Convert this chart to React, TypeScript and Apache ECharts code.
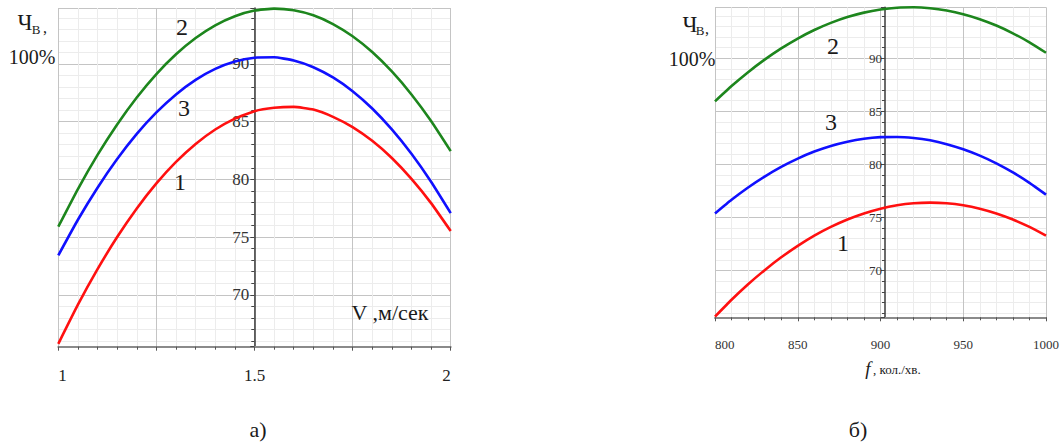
import React, { useEffect, useRef } from "react";
import * as echarts from "echarts";

// ---- Chart а): efficiency vs air speed V (м/сек)
const speedV = [1.0, 1.05, 1.1, 1.15, 1.2, 1.25, 1.3, 1.35, 1.4, 1.45, 1.5, 1.55, 1.6, 1.65, 1.7, 1.75, 1.8, 1.85, 1.9, 1.95, 2.0];
const speedCurve1 = [65.75, 69.14, 72.22, 75.0, 77.48, 79.65, 81.51, 83.07, 84.32, 85.27, 85.91, 86.2, 86.28, 86.05, 85.42, 84.53, 83.34, 81.85, 80.04, 77.94, 75.52];
const speedCurve2 = [75.9, 79.16, 82.12, 84.76, 87.1, 89.13, 90.84, 92.25, 93.35, 94.14, 94.63, 94.8, 94.66, 94.22, 93.46, 92.4, 91.03, 89.35, 87.36, 85.06, 82.45];
const speedCurve3 = [73.41, 76.5, 79.28, 81.76, 83.94, 85.8, 87.36, 88.62, 89.57, 90.21, 90.54, 90.58, 90.3, 89.72, 88.83, 87.64, 86.14, 84.33, 82.22, 79.8, 77.08];

// ---- Chart б): efficiency vs frequency f (кол./хв.)
const freqF = [800, 810, 820, 830, 840, 850, 860, 870, 880, 890, 900, 910, 920, 930, 940, 950, 960, 970, 980, 990, 1000];
const freqCurve1 = [65.66, 67.25, 68.71, 70.04, 71.25, 72.33, 73.29, 74.11, 74.81, 75.38, 75.83, 76.15, 76.34, 76.4, 76.34, 76.15, 75.83, 75.38, 74.81, 74.11, 73.29];
const freqCurve2 = [85.94, 87.38, 88.69, 89.87, 90.93, 91.86, 92.66, 93.33, 93.88, 94.3, 94.59, 94.76, 94.8, 94.71, 94.49, 94.15, 93.68, 93.08, 92.35, 91.5, 90.52];
const freqCurve3 = [75.38, 76.67, 77.83, 78.86, 79.77, 80.55, 81.21, 81.74, 82.14, 82.42, 82.57, 82.59, 82.49, 82.27, 81.91, 81.43, 80.83, 80.1, 79.24, 78.26, 77.15];

const leftXTickLabels = ["1", "1.5", "2"];

const SERIF = "Times New Roman, Liberation Serif, serif";
const RED = "#ff1010";
const GREEN = "#1d861d";
const BLUE = "#1010ff";

function pairs(xs: number[], ys: number[]) {
  return xs.map((x, i) => [x, ys[i]]);
}

function lineSeries(name: string, xs: number[], ys: number[], color: string, idx: number) {
  return {
    name,
    type: "line",
    xAxisIndex: idx,
    yAxisIndex: idx,
    data: pairs(xs, ys),
    showSymbol: false,
    smooth: 0.15,
    lineStyle: { color, width: 2.6 },
    itemStyle: { color },
    z: 5,
  };
}

function xAxisBase(gridIndex: number) {
  return {
    type: "value",
    gridIndex,
    axisLine: { show: true, onZero: false, lineStyle: { color: "#8a8a8a", width: 2 } },
    axisTick: { show: true, length: 4, lineStyle: { color: "#555", width: 1 } },
    minorTick: { show: true, splitNumber: 5, length: 3, lineStyle: { color: "#555" } },
    splitLine: { show: true, lineStyle: { color: "#c4c4c4", width: 1 } },
    minorSplitLine: { show: true, lineStyle: { color: "#ececec", width: 1 } },
  };
}

function yAxisBase(gridIndex: number, min: number, max: number, offset: number, fontSize: number, margin: number) {
  return {
    type: "value",
    gridIndex,
    min,
    max,
    splitNumber: 6,
    offset,
    position: "left",
    axisLine: { show: true, lineStyle: { color: "#3a3a3a", width: 1.5 } },
    axisTick: { show: true, length: 4, lineStyle: { color: "#444" } },
    minorTick: { show: true, splitNumber: 5, length: 3, lineStyle: { color: "#444" } },
    splitLine: { show: true, lineStyle: { color: "#c4c4c4", width: 1 } },
    minorSplitLine: { show: true, lineStyle: { color: "#ececec", width: 1 } },
    axisLabel: {
      fontFamily: SERIF,
      fontSize,
      color: "#333",
      margin,
      showMinLabel: false,
      showMaxLabel: false,
    },
  };
}

function txt(text: string, x: number, y: number, size: number, extra: any = {}) {
  return {
    type: "text",
    x,
    y,
    z: 10,
    style: {
      text,
      fontFamily: SERIF,
      fontSize: size,
      fontStyle: extra.italic ? "italic" : "normal",
      fill: "#1a1a1a",
      align: extra.align || "center",
      verticalAlign: "middle",
    },
  };
}

export default function App() {
  const ref = useRef<HTMLDivElement>(null);

  useEffect(() => {
    if (!ref.current) return;
    const chart = echarts.init(ref.current, null, { renderer: "svg" });
    const option: any = {
      animation: false,
      backgroundColor: "#ffffff",
      grid: [
        { left: 58.3, top: 8, width: 392.4, height: 338.7 },
        { left: 715, top: 7.3, width: 340, height: 310 },
      ],
      xAxis: [
        {
          ...xAxisBase(0),
          min: 1,
          max: 2,
          interval: 0.25,
          axisLabel: {
            fontFamily: SERIF,
            fontSize: 17,
            color: "#222",
            margin: 20,
            alignMinLabel: "left",
            alignMaxLabel: "right",
            formatter: (v: number) => {
              const s = String(Math.round(v * 100) / 100);
              return leftXTickLabels.includes(s) ? s : "";
            },
          },
        },
        {
          ...xAxisBase(1),
          min: 800,
          max: 1000,
          interval: 50,
          axisLabel: {
            fontFamily: SERIF,
            fontSize: 13,
            color: "#333",
            margin: 21,
            alignMinLabel: "left",
            formatter: (v: number) => String(v),
          },
        },
      ],
      yAxis: [
        yAxisBase(0, 65.5, 94.85, -196, 17, 5),
        yAxisBase(1, 65.6, 94.8, -170, 13, 3),
      ],
      series: [
        lineSeries("1a", speedV, speedCurve1, RED, 0),
        lineSeries("2a", speedV, speedCurve2, GREEN, 0),
        lineSeries("3a", speedV, speedCurve3, BLUE, 0),
        lineSeries("1b", freqF, freqCurve1, RED, 1),
        lineSeries("2b", freqF, freqCurve2, GREEN, 1),
        lineSeries("3b", freqF, freqCurve3, BLUE, 1),
      ],
      graphic: [
        // left chart
        txt("Ч", 25, 22, 23),
        txt("В", 36, 29, 13),
        txt(",", 45, 27, 16),
        txt("100%", 32, 57, 20),
        txt("2", 182, 27, 24),
        txt("3", 184, 108, 24),
        txt("1", 180, 182, 24),
        txt("V ,м/сек", 390, 312, 22),
        txt("а)", 258, 429, 22),
        // right chart
        txt("Ч", 690, 24, 23),
        txt("В", 700, 30, 13),
        txt(",", 707, 28, 16),
        txt("100%", 692, 59, 20),
        txt("2", 833, 46, 24),
        txt("3", 831, 122, 24),
        txt("1", 843, 243, 24),
        txt("f", 868, 368, 19, { italic: true }),
        txt(", кол./хв.", 873, 369, 13, { align: "left" }),
        txt("б)", 858, 429, 22),
      ],
    };
    chart.setOption(option);
    return () => chart.dispose();
  }, []);

  return (
    <div
      ref={ref}
      style={{ position: "absolute", left: 0, top: 0, width: 1062, height: 443 }}
    />
  );
}
